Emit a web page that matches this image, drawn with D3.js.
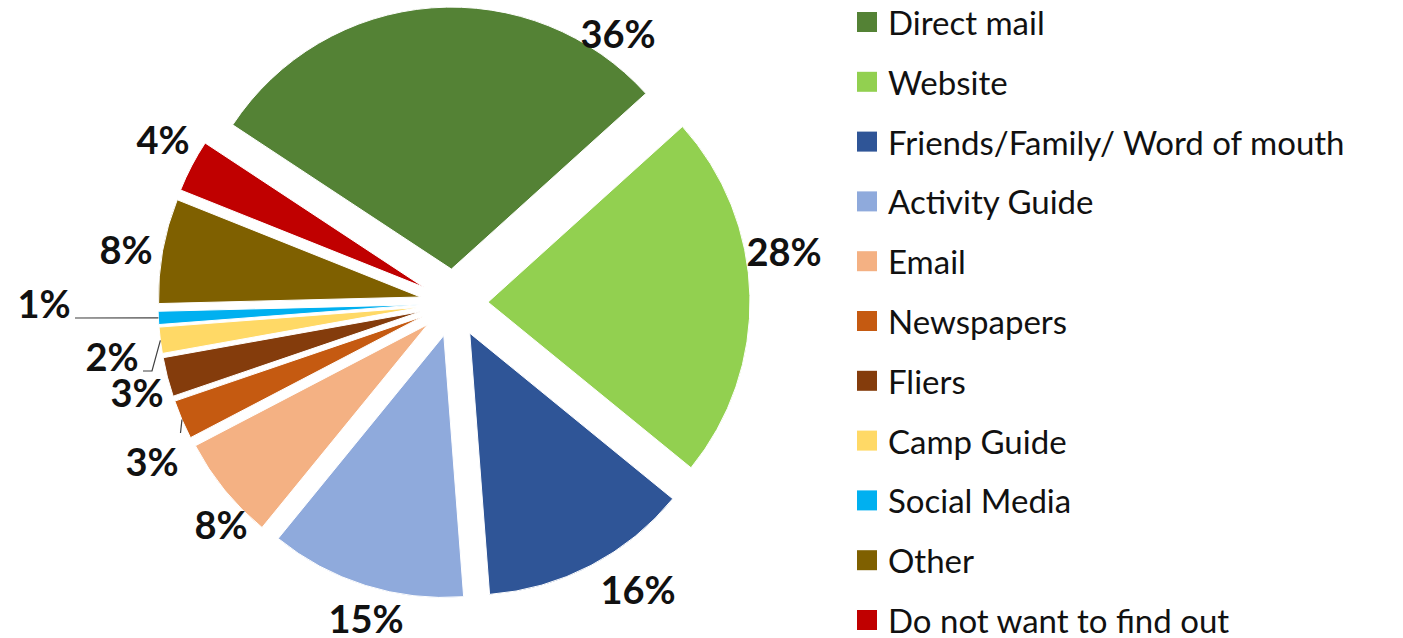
<!DOCTYPE html>
<html>
<head>
<meta charset="utf-8">
<script src="https://cdn.jsdelivr.net/npm/d3@7"></script>
<style>
  html, body { margin: 0; padding: 0; background: #ffffff; }
  svg { display: block; }
</style>
</head>
<body>
<svg id="chart" width="1403" height="638"></svg>
<script>
// ---- data ----
const categories = ["Direct mail", "Website", "Friends/Family/ Word of mouth", "Activity Guide",
  "Email", "Newspapers", "Fliers", "Camp Guide", "Social Media", "Other", "Do not want to find out"];
const values = [36, 28, 16, 15, 8, 3, 3, 2, 1, 8, 4];
const labels = ["36%", "28%", "16%", "15%", "8%", "3%", "3%", "2%", "1%", "8%", "4%"];
const colors = ["#548235", "#92D050", "#2F5597", "#8FAADC", "#F4B183", "#C55A11",
  "#843C0C", "#FFD966", "#00B0F0", "#7F6000", "#C00000"];

// ---- layout ----
const W = 1403, H = 638;
const cx = 454, cy = 303, R = 262, explode = 34;
const startDeg = -56.6;
// label centres (x, y) and optional leader line flag
const labelPos = [
  [618, 33], [784, 251], [638, 589], [366, 618], [221, 524],
  [152, 461], [137, 392], [112, 356], [44, 303], [126, 249], [163, 139]
];
const leaders = { 5: [[180.5, 433]], 7: [[143, 371], [152, 371]], 8: [[75, 318]] };

const svg = d3.select("#chart");

const pie = d3.pie().sort(null).value(d => d)
  .startAngle(startDeg * Math.PI / 180)
  .endAngle(startDeg * Math.PI / 180 + 2 * Math.PI);
const arcs = pie(values);
const arc = d3.arc().innerRadius(0).outerRadius(R);

const g = svg.append("g").attr("transform", `translate(${cx},${cy})`);

function offset(a, dist) {
  const m = (a.startAngle + a.endAngle) / 2;
  return [Math.sin(m) * dist, -Math.cos(m) * dist];
}

g.selectAll("path.slice").data(arcs).enter().append("path")
  .attr("class", "slice")
  .attr("d", arc)
  .attr("fill", (d, i) => colors[i])
  .attr("stroke", "#ffffff")
  .attr("stroke-width", 1)
  .attr("transform", d => { const o = offset(d, explode); return `translate(${o[0]},${o[1]})`; });

// leader lines
Object.keys(leaders).forEach(k => {
  const i = +k;
  const o = offset(arcs[i], explode + R);
  const pts = leaders[k].concat([[cx + o[0], cy + o[1]]]);
  svg.append("path")
    .attr("d", d3.line()(pts))
    .attr("fill", "none")
    .attr("stroke", "#404040")
    .attr("stroke-width", 1.2);
});

// data labels
svg.selectAll("text.lbl").data(labels).enter().append("text")
  .attr("class", "lbl")
  .attr("x", (d, i) => labelPos[i][0])
  .attr("y", (d, i) => labelPos[i][1])
  .attr("text-anchor", "middle")
  .attr("dominant-baseline", "central")
  .attr("font-family", "Lato, 'Open Sans', sans-serif")
  .attr("font-weight", "bold")
  .attr("font-size", 38)
  .attr("fill", "#111111")
  .text(d => d);

// legend
const legend = svg.append("g").attr("transform", "translate(857,22)");
const rowH = 59.8;
const item = legend.selectAll("g.item").data(categories).enter().append("g")
  .attr("class", "item")
  .attr("transform", (d, i) => `translate(0,${i * rowH})`);
item.append("rect")
  .attr("x", 0).attr("y", -10).attr("width", 20).attr("height", 20)
  .attr("fill", (d, i) => colors[i]);
item.append("text")
  .attr("x", 31).attr("y", 0)
  .attr("dominant-baseline", "central")
  .attr("font-family", "Lato, 'Open Sans', sans-serif")
  .attr("font-size", 33)
  .attr("fill", "#111111")
  .text(d => d);
</script>
</body>
</html>
